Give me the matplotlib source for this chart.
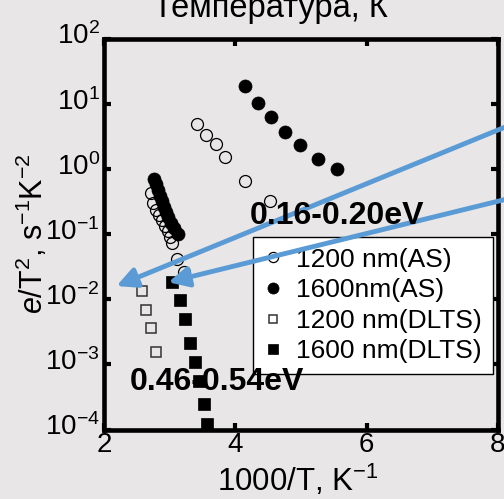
import numpy as np
import matplotlib
matplotlib.use("Agg")
import matplotlib.pyplot as plt
import matplotlib.transforms as mtransforms

# Emission rate e/T^2 versus 1000/T for two excitation wavelengths
as1200_x = [3.42, 3.56, 3.70, 3.84, 4.15, 4.53,
            2.71, 2.75, 2.79, 2.84, 2.88, 2.93, 2.98, 3.01, 3.03, 3.11, 3.22]
as1200_y = [4.83, 3.27, 2.38, 1.52, 0.652, 0.325,
            0.423, 0.303, 0.234, 0.197, 0.165, 0.135, 0.112, 0.0913, 0.0723, 0.0408, 0.0262]

as1600_x = [4.15, 4.34, 4.54, 4.75, 4.99, 5.26, 5.55,
            2.76, 2.79, 2.82, 2.86, 2.89, 2.92, 2.95, 2.98, 3.02, 3.06, 3.12]
as1600_y = [18.9, 10.3, 6.33, 3.64, 2.33, 1.42, 1.00,
            0.700, 0.586, 0.474, 0.384, 0.322, 0.261, 0.218, 0.183, 0.148, 0.124, 0.1005]

dlts1200_x = [2.58, 2.64, 2.71, 2.79]
dlts1200_y = [0.0134, 0.00685, 0.00367, 0.00152]

dlts1600_x = [3.03, 3.16, 3.24, 3.31, 3.39, 3.45, 3.53, 3.57]
dlts1600_y = [0.0186, 0.00975, 0.00499, 0.00211, 0.00110, 0.000559, 0.000244, 0.000123]

series_labels = ["1200 nm(AS)", "1600nm(AS)", "1200 nm(DLTS)", "1600 nm(DLTS)"]
x_ticks = [2, 4, 6, 8]
y_ticks = [1e-4, 1e-3, 1e-2, 1e-1, 1e0, 1e1, 1e2]

# Arrow tips (data) and tails (beyond the right edge)
arrow_tips = [(2.19, 0.0159), (2.98, 0.0182)]
arrow_tails = [(8.4, 5.77), (8.4, 0.40)]

plt.rcParams["font.family"] = ["Liberation Sans", "DejaVu Sans"]
plt.rcParams["mathtext.fontset"] = "custom"
plt.rcParams["mathtext.rm"] = "Liberation Sans"
plt.rcParams["mathtext.it"] = "Liberation Sans:italic"
plt.rcParams["mathtext.bf"] = "Liberation Sans:bold"

bg = "#e8e6e7"
blue = "#5b9bd5"
fs = 20

fig = plt.figure(figsize=(5.04, 4.99), dpi=100, facecolor=bg)
W, H = 504, 499
ax = fig.add_axes([104 / W, 1 - 429.5 / H, 394 / W, 391 / H], facecolor=bg)

ax.plot(as1200_x, as1200_y, linestyle="none", marker="o", ms=8.6,
        mfc="none", mec="black", mew=0.9, label=series_labels[0], zorder=3)
ax.plot(as1600_x, as1600_y, linestyle="none", marker="o", ms=9.4,
        mfc="black", mec="black", mew=0.5, label=series_labels[1], zorder=4)
ax.plot(dlts1200_x, dlts1200_y, linestyle="none", marker="s", ms=7.6,
        mfc="none", mec="#333333", mew=1.1, label=series_labels[2], zorder=3)
ax.plot(dlts1600_x, dlts1600_y, linestyle="none", marker="s", ms=8.2,
        mfc="black", mec="black", mew=0.5, label=series_labels[3], zorder=4)

ax.set_yscale("log")
ax.set_xlim(2, 8)
ax.set_ylim(1e-4, 1e2)
ax.set_xticks(x_ticks)
ax.set_yticks(y_ticks)
ax.yaxis.set_minor_locator(matplotlib.ticker.NullLocator())

for s in ax.spines.values():
    s.set_linewidth(3.3)
ax.tick_params(which="major", direction="in", length=5, width=3,
               top=True, right=True, labelsize=fs, pad=3)
ax.tick_params(axis="x", pad=2)

# lift the power-of-ten labels so the "10" sits on its tick
lift = mtransforms.ScaledTranslation(0, 5 / 100, fig.dpi_scale_trans)
for lbl in ax.get_yticklabels():
    lbl.set_transform(lbl.get_transform() + lift)

ax.set_xlabel("1000/T, K$^{-1}$", fontsize=22.5)
ax.xaxis.set_label_coords(0.491, -0.086)
ax.set_ylabel(r"$\it{e}$/T$^{2}$, s$^{-1}$K$^{-2}$", fontsize=22, va="center")
ax.yaxis.set_label_coords(-0.181, 0.5)

fig.text(270 / W, 1 - 17 / H, "Температура, К", ha="center", va="baseline",
         fontsize=23.5)

fig.text(250 / W, 1 - 216 / H, "0.16-0.20eV", ha="left", va="center",
         fontsize=23, fontweight="bold", zorder=1)
fig.text(130 / W, 1 - 382.5 / H, "0.46-0.54eV", ha="left", va="center",
         fontsize=23, fontweight="bold", zorder=1)

leg = ax.legend(loc="upper left", bbox_to_anchor=(0.378, 0.492),
                borderaxespad=0, fontsize=19, frameon=True, fancybox=False,
                edgecolor="black", facecolor="white", framealpha=1,
                handlelength=0.75, handletextpad=0.5, labelspacing=0.25,
                borderpad=0.4, markerscale=0.85)
leg.get_frame().set_linewidth(1.0)
leg.set_zorder(5)

for tip, tail in zip(arrow_tips, arrow_tails):
    ax.annotate("", xy=tip, xytext=tail, xycoords="data", textcoords="data",
                annotation_clip=False, zorder=10,
                arrowprops=dict(arrowstyle="-|>,head_length=0.6,head_width=0.3",
                                mutation_scale=20, lw=3.5, color=blue,
                                shrinkA=0, shrinkB=0))

fig.savefig("out.png", dpi=100, facecolor=bg)
